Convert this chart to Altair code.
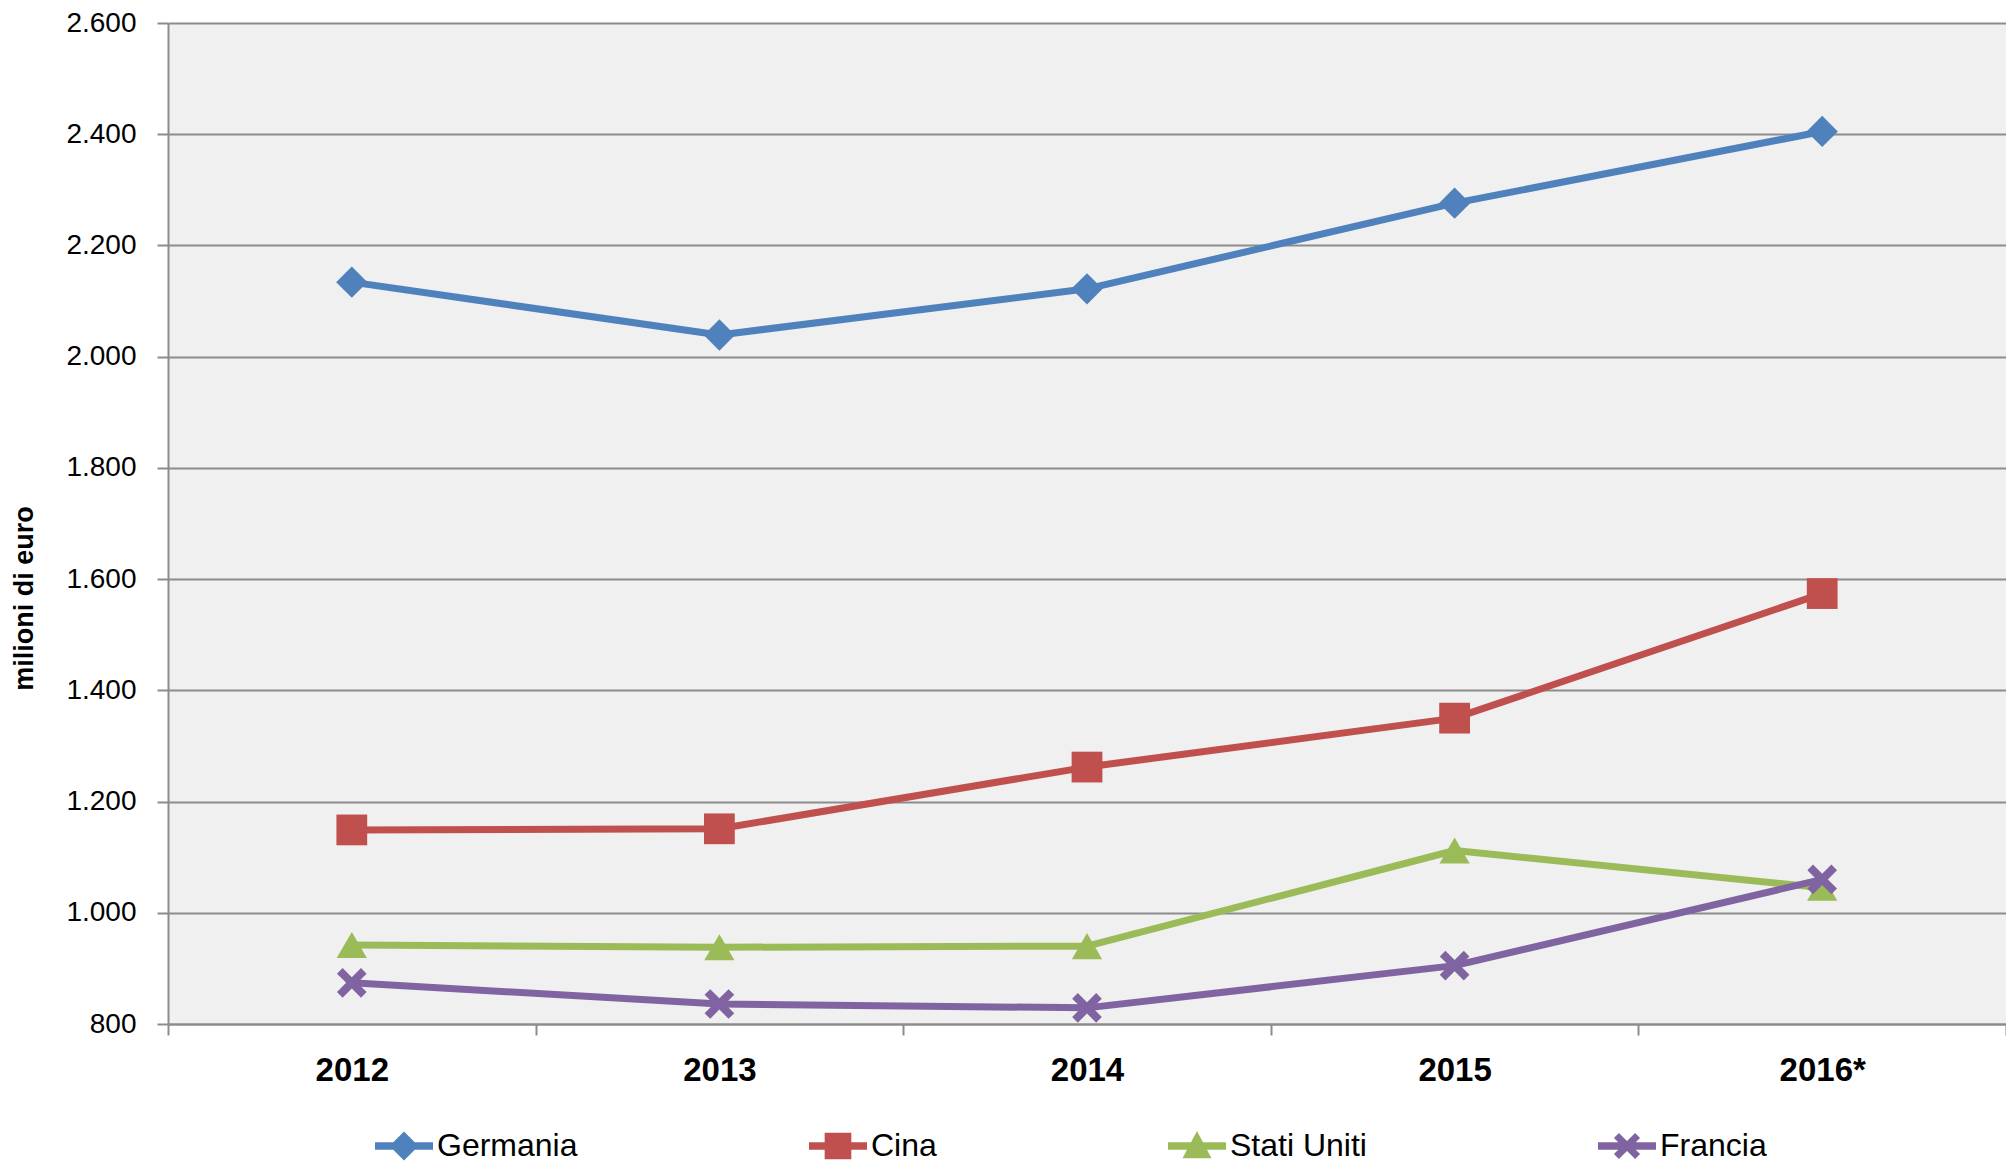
import altair as alt
import pandas as pd

# ---- data ----
anni = ["2012", "2013", "2014", "2015", "2016*"]
serie = ["Germania", "Cina", "Stati Uniti", "Francia"]
germania = [2134, 2039, 2122, 2276, 2405]
cina = [1149, 1151, 1262, 1350, 1574]
stati_uniti = [942, 938, 940, 1112, 1045]
francia = [874, 836, 829, 905, 1060]
y_ticks = [800, 1000, 1200, 1400, 1600, 1800, 2000, 2200, 2400, 2600]

colori = ["#4F81BD", "#C0504D", "#9BBB59", "#8064A2"]

valori = {"Germania": germania, "Cina": cina, "Stati Uniti": stati_uniti, "Francia": francia}
rows = []
for s in serie:
    for a, v in zip(anni, valori[s]):
        rows.append({"Serie": s, "Anno": a, "Valore": v})
df = pd.DataFrame(rows)

# marker shapes (unit box -1..1)
X_PATH = ("M-1,-0.62L-0.62,-1L0,-0.38L0.62,-1L1,-0.62L0.38,0L1,0.62L0.62,1"
          "L0,0.38L-0.62,1L-1,0.62L-0.38,0Z")
marker_shapes = ["diamond", "square", "triangle-up", X_PATH]
marker_sizes = [980, 880, 980, 760]

# legend symbols: line segment + marker
LINE = "M-1,-0.13L1,-0.13L1,0.13L-1,0.13Z"
leg_diamond = LINE + "M0,-0.5L0.5,0L0,0.5L-0.5,0Z"
leg_square = LINE + "M-0.46,-0.46L0.46,-0.46L0.46,0.46L-0.46,0.46Z"
leg_triangle = LINE + "M0,-0.52L0.5,0.42L-0.5,0.42Z"
s = 0.45
leg_x = LINE + ("M{a},{b}L{b},{a}L0,{c}L{d},{a}L{e},{b}L{f},0L{e},{d}L{d},{e}"
                "L0,{f}L{b},{e}L{a},{d}L{c},0Z").format(
    a=-1 * s, b=-0.62 * s, c=-0.38 * s, d=0.62 * s, e=1 * s, f=0.38 * s)
legend_shapes = [leg_diamond, leg_square, leg_triangle, leg_x]

color_scale = alt.Scale(domain=serie, range=colori)

x_enc = alt.X(
    "Anno:N",
    sort=anni,
    bandPosition=0.5,
    scale=alt.Scale(type="band", domain=anni, paddingInner=0, paddingOuter=0),
    axis=alt.Axis(
        title=None, tickBand="extent", labelAngle=0, grid=False,
        labelFont="Liberation Sans", labelFontWeight="bold", labelFontSize=33,
        labelColor="#000000", labelPadding=19,
    ),
)
y_enc = alt.Y(
    "Valore:Q",
    scale=alt.Scale(domain=[800, 2600], nice=False, zero=False),
    axis=alt.Axis(
        values=y_ticks,
        labelExpr="replace(format(datum.value, ','), ',', '.')",
        title="milioni di euro",
        titleFont="Liberation Sans", titleFontWeight="bold", titleFontSize=27,
        titleColor="#000000", titleX=-144, titleY=575, titleAngle=-90,
        titleAlign="center", titleBaseline="middle",
        labelFont="Liberation Sans", labelFontSize=28, labelColor="#000000",
        labelPadding=21, grid=True,
    ),
)

base = alt.Chart(df)

lines = base.mark_line(strokeWidth=7, strokeJoin="round", strokeCap="round").encode(
    x=x_enc, y=y_enc,
    color=alt.Color("Serie:N", scale=color_scale, legend=None),
)

points = base.mark_point(filled=True, opacity=1).encode(
    x=x_enc, y=y_enc,
    color=alt.Color("Serie:N", scale=color_scale, legend=None),
    shape=alt.Shape("Serie:N", scale=alt.Scale(domain=serie, range=marker_shapes), legend=None),
    size=alt.Size("Serie:N", scale=alt.Scale(domain=serie, range=marker_sizes), legend=None),
)

leg_props = dict(
    orient="none", legendX=207, legendY=1094, direction="horizontal", columns=4,
    columnPadding=231, title=None, padding=0, labelFont="Liberation Sans",
    labelFontSize=32, labelColor="#000000", labelOffset=4, labelLimit=400,
    symbolSize=3364, symbolStrokeWidth=0, symbolOpacity=1,
)

legend_layer = base.mark_point(filled=True, opacity=1, size=3364).transform_filter("false").encode(
    x=x_enc, y=y_enc,
    color=alt.Color("Serie:N", scale=color_scale, legend=alt.Legend(**leg_props)),
    shape=alt.Shape("Serie:N", scale=alt.Scale(domain=serie, range=legend_shapes),
                    legend=alt.Legend(**leg_props)),
)

chart = alt.layer(lines, points, legend_layer).resolve_scale(
    color="independent", shape="independent", size="independent"
).properties(
    width=1838, height=1001,
    autosize=alt.AutoSizeParams(type="none"),
    padding={"left": 160, "top": 15, "right": 0, "bottom": 140},
).configure_view(
    fill="#F0F0F0", stroke=None,
).configure_axis(
    domainColor="#8C8C8C", domainWidth=2, tickColor="#8C8C8C", tickWidth=2,
    tickSize=11, gridColor="#8C8C8C", gridWidth=2,
)

chart.save("out.html", embed_options={"renderer": "svg", "actions": False})
